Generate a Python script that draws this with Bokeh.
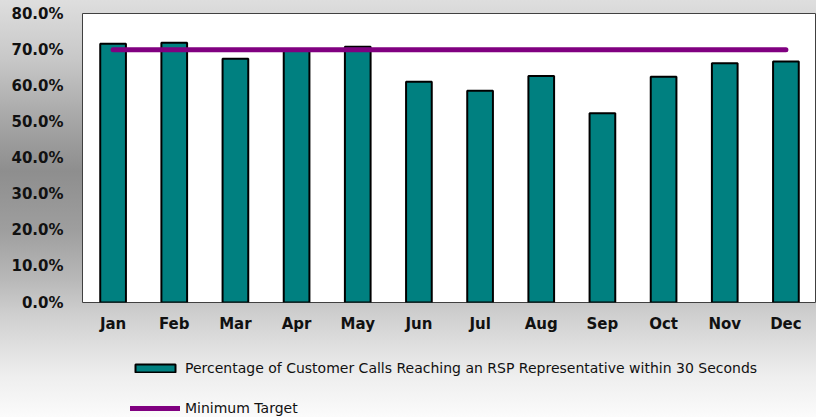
from bokeh.plotting import figure
from bokeh.layouts import column
from bokeh.models import (ColumnDataSource, FactorRange, Range1d, FixedTicker,
                          NumeralTickFormatter, Legend, LegendItem)
from bokeh.embed import file_html
from bokeh.resources import INLINE

months = ["Jan", "Feb", "Mar", "Apr", "May", "Jun", "Jul", "Aug", "Sep", "Oct", "Nov", "Dec"]
pct_calls = [0.716, 0.719, 0.675, 0.698, 0.708, 0.611, 0.586, 0.627, 0.524, 0.625, 0.662, 0.667]
min_target = [0.70] * 12
y_ticks = [0.0, 0.1, 0.2, 0.3, 0.4, 0.5, 0.6, 0.7, 0.8]

bar_label = "Percentage of Customer Calls Reaching an RSP Representative within 30 Seconds"
line_label = "Minimum Target"

src = ColumnDataSource(dict(month=months, pct=pct_calls, target=min_target))

bar_style = dict(fill_color="#008080", line_color="black", line_width=2)
line_style = dict(line_color="#800080", line_width=5, line_cap="round")

# ---------------- main chart ----------------
p = figure(width=816, height=346, output_backend="svg", toolbar_location=None,
           x_range=FactorRange(*months, range_padding=0), y_range=Range1d(0, 0.8),
           min_border_left=82, min_border_right=0, min_border_top=13, min_border_bottom=44)
p.border_fill_alpha = 0
p.background_fill_color = "white"
p.outline_line_color = "#404040"
p.outline_line_width = 1

p.vbar(x="month", top="pct", width=0.42, source=src, **bar_style)
p.line(x="month", y="target", source=src, **line_style)

p.xgrid.visible = False
p.ygrid.visible = False

for ax in (p.xaxis[0], p.yaxis[0]):
    ax.axis_line_color = None
    ax.major_tick_line_color = None
    ax.minor_tick_line_color = None
    ax.major_tick_out = 0
    ax.major_tick_in = 0
    ax.minor_tick_out = 0
    ax.major_label_text_font = "DejaVu Sans"
    ax.major_label_text_font_size = "15px"
    ax.major_label_text_font_style = "bold"
    ax.major_label_text_color = "#111111"

p.yaxis[0].ticker = FixedTicker(ticks=y_ticks)
p.yaxis[0].formatter = NumeralTickFormatter(format="0.0%")
p.yaxis[0].major_label_standoff = 19
p.xaxis[0].major_label_standoff = 12

# ---------------- legend strip ----------------
lg = figure(width=816, height=71, output_backend="svg", toolbar_location=None,
            x_range=p.x_range, y_range=Range1d(0, 1),
            x_axis_location=None, y_axis_location=None,
            min_border_left=0, min_border_right=0, min_border_top=0, min_border_bottom=0)
lg.border_fill_alpha = 0
lg.background_fill_alpha = 0
lg.outline_line_color = None
lg.xgrid.visible = False
lg.ygrid.visible = False

lbars = lg.vbar(x="month", top="pct", width=0.42, source=src, visible=False, **bar_style)
lline = lg.line(x="month", y="target", source=src, visible=False, **line_style)

legend = Legend(items=[LegendItem(label=bar_label, renderers=[lbars]),
                       LegendItem(label=line_label, renderers=[lline])],
                location=(48, 0), orientation="vertical", click_policy="none",
                glyph_width=50, glyph_height=10, label_height=18, spacing=22,
                padding=0, margin=0, label_standoff=5,
                background_fill_alpha=0, border_line_alpha=0,
                inactive_fill_alpha=0,
                label_text_font="DejaVu Sans", label_text_font_size="14px",
                label_text_color="#111111")
lg.add_layout(legend, "center")

layout = column(p, lg, spacing=0)
layout.styles = {"background": "linear-gradient(to bottom, #dedede 0%, #c8c8c8 14%, #a6a6a6 29%, #8e8e8e 41%, #9e9e9e 55%, #b8b8b8 67%, #cecece 75%, #eeeeee 90%, #fbfbfb 100%)"}

open("out.html", "w").write(file_html(layout, INLINE))
